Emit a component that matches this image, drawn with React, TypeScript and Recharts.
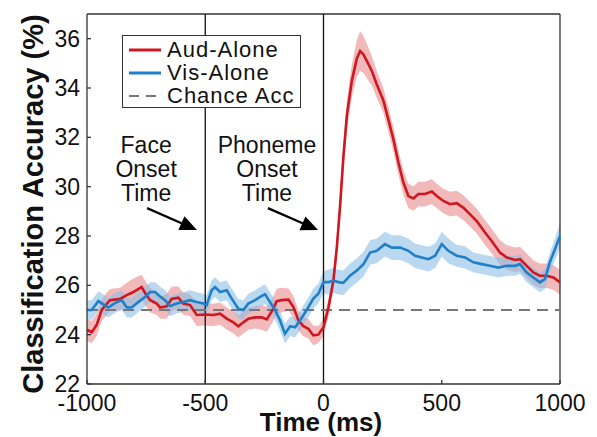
import React from 'react';
import {
  Area,
  ComposedChart,
  Line,
  ReferenceDot,
  ReferenceLine,
  XAxis,
  YAxis,
} from 'recharts';

// time points (ms) and mean / s.e.m. accuracy (%)
const AUD_TIME = [
  -1000, -980, -959, -938, -903, -860, -832, -804, -769, -755, -733, -705, -691, -663, -642, -614, -593,
  -564, -536, -501, -466, -437, -409, -381, -360, -339, -318, -289, -261, -240, -212, -198, -177, -148,
  -127, -106, -85, -64, -43, -22, 0, 21, 42, 56, 70, 84, 99, 120, 141, 155, 169, 183, 204, 225, 253, 275,
  296, 317, 338, 359, 380, 401, 429, 458, 479, 507, 535, 563, 591, 620, 648, 683, 711, 746, 775, 810, 831,
  852, 887, 915, 943, 972, 1000,
];
const AUD_MEAN = [
  24.2, 24.1, 24.4, 25.0, 25.4, 25.45, 25.6, 25.73, 25.93, 25.7, 25.4, 25.26, 25.1, 25.15, 25.45, 25.5,
  25.26, 25.2, 24.8, 24.82, 24.8, 24.85, 24.65, 24.5, 24.34, 24.5, 24.65, 24.7, 24.7, 24.62, 25.05, 25.36,
  25.4, 25.42, 25.12, 24.58, 24.34, 24.24, 23.97, 24.0, 24.3, 25.1, 26.2, 27.5, 29.2, 31.2, 32.9, 34.3,
  35.2, 35.5, 35.36, 35.1, 34.7, 34.15, 33.5, 32.7, 31.9, 30.97, 30.16, 29.62, 29.52, 29.7, 29.7, 29.8,
  29.62, 29.42, 29.29, 29.33, 29.15, 28.88, 28.6, 28.14, 27.8, 27.33, 27.13, 27.03, 27.06, 26.86, 26.52,
  26.39, 26.39, 26.32, 26.12,
];
const AUD_SEM = [
  0.45, 0.45, 0.45, 0.45, 0.45, 0.45, 0.5, 0.55, 0.5, 0.5, 0.5, 0.45, 0.45, 0.5, 0.5, 0.45, 0.45, 0.45,
  0.45, 0.45, 0.45, 0.45, 0.45, 0.45, 0.45, 0.45, 0.45, 0.45, 0.5, 0.5, 0.5, 0.5, 0.5, 0.45, 0.45, 0.4,
  0.4, 0.4, 0.4, 0.35, 0.35, 0.35, 0.4, 0.45, 0.5, 0.55, 0.6, 0.65, 0.75, 0.8, 0.75, 0.7, 0.6, 0.55, 0.5,
  0.5, 0.5, 0.5, 0.5, 0.5, 0.5, 0.5, 0.5, 0.5, 0.5, 0.5, 0.5, 0.5, 0.5, 0.5, 0.5, 0.5, 0.5, 0.5, 0.5,
  0.5, 0.5, 0.5, 0.5, 0.5, 0.5, 0.5, 0.5,
];

const VIS_TIME = [
  -1000, -980, -952, -931, -910, -882, -853, -832, -811, -783, -755, -733, -712, -691, -670, -649, -621,
  -593, -564, -536, -508, -494, -473, -459, -437, -409, -388, -360, -339, -318, -289, -268, -247, -226,
  -205, -184, -163, -141, -120, -99, -71, -43, -22, 0, 21, 42, 63, 84, 113, 141, 169, 197, 225, 260, 289,
  324, 359, 387, 415, 444, 472, 500, 528, 563, 598, 634, 669, 704, 739, 774, 810, 831, 859, 887, 915, 936,
  957, 979, 1000,
];
const VIS_MEAN = [
  25.0, 25.0, 25.36, 25.23, 25.1, 25.28, 25.4, 25.1, 25.1, 25.32, 25.53, 25.73, 25.73, 25.55, 25.4, 25.15,
  25.26, 25.32, 25.4, 25.32, 25.26, 25.2, 25.8, 25.93, 25.73, 25.8, 25.46, 25.05, 25.0, 25.26, 25.4, 25.53,
  25.64, 25.32, 25.0, 24.58, 24.04, 24.34, 24.3, 24.58, 25.0, 25.46, 25.66, 26.13, 26.13, 26.2, 26.13,
  26.1, 26.4, 26.6, 26.86, 27.33, 27.4, 27.67, 27.53, 27.53, 27.4, 27.2, 27.13, 27.06, 27.2, 27.67, 27.4,
  27.2, 27.13, 26.93, 26.86, 26.79, 26.72, 26.79, 26.79, 26.86, 26.52, 26.32, 26.12, 26.25, 26.93, 27.47,
  28.0,
];
const VIS_SEM = [
  0.4, 0.4, 0.4, 0.4, 0.4, 0.4, 0.4, 0.4, 0.4, 0.4, 0.4, 0.4, 0.4, 0.4, 0.4, 0.4, 0.4, 0.4, 0.4, 0.4,
  0.4, 0.4, 0.4, 0.4, 0.4, 0.4, 0.4, 0.4, 0.4, 0.4, 0.4, 0.4, 0.4, 0.4, 0.4, 0.4, 0.4, 0.4, 0.4, 0.4,
  0.4, 0.4, 0.4, 0.45, 0.5, 0.5, 0.5, 0.5, 0.5, 0.5, 0.5, 0.5, 0.5, 0.5, 0.5, 0.5, 0.5, 0.5,
  0.5, 0.5, 0.5, 0.5, 0.5, 0.45, 0.45, 0.4, 0.4, 0.4, 0.4, 0.4, 0.4, 0.4, 0.4, 0.4, 0.4, 0.4, 0.4,
  0.45, 0.5,
];

const CHANCE = 25;
const EVENT_TIMES = [-500, 0];
const X_TICKS = [-1000, -500, 0, 500, 1000];
const Y_TICKS = [22, 24, 26, 28, 30, 32, 34, 36];

const SERIES = [
  { name: 'Aud-Alone', color: '#d0171f', band: '#e98a8e' },
  { name: 'Vis-Alone', color: '#1f7fc8', band: '#8cbfe6' },
];
const LEGEND_ITEMS = [
  { name: 'Aud-Alone', color: '#d0171f', dashed: false },
  { name: 'Vis-Alone', color: '#1f7fc8', dashed: false },
  { name: 'Chance Acc', color: '#777777', dashed: true },
];

const ANNOTATIONS = [
  { lines: ['Face', 'Onset', 'Time'], t: -750, v: 31.35, from: [-746, 29.13], to: [-535, 28.24] },
  { lines: ['Phoneme', 'Onset', 'Time'], t: -239, v: 31.35, from: [-235, 29.13], to: [-23, 28.24] },
];

const FONT = '"Liberation Sans", Arial, Helvetica, sans-serif';
const TICK_STYLE = { fontSize: 23, fill: '#111', fontFamily: FONT, stroke: 'none' };

const build = (time: number[], mean: number[], sem: number[]) =>
  time.map((t, i) => ({ t, mean: mean[i], band: [mean[i] - sem[i], mean[i] + sem[i]] }));

const audData = build(AUD_TIME, AUD_MEAN, AUD_SEM);
const visData = build(VIS_TIME, VIS_MEAN, VIS_SEM);

const Arrow = (props: any) => {
  const { x1, y1, x2, y2 } = props;
  const dx = x2 - x1;
  const dy = y2 - y1;
  const len = Math.sqrt(dx * dx + dy * dy);
  const ux = dx / len;
  const uy = dy / len;
  const head = 17;
  const half = 7.5;
  const bx = x2 - ux * head;
  const by = y2 - uy * head;
  return (
    <g>
      <line x1={x1} y1={y1} x2={bx + ux * 2} y2={by + uy * 2} stroke="#000" strokeWidth={2.2} />
      <polygon
        points={`${x2},${y2} ${bx - uy * half},${by + ux * half} ${bx + uy * half},${by - ux * half}`}
        fill="#000"
      />
    </g>
  );
};

const annotationShape = (lines: string[]) => (props: any) => (
  <text x={props.cx} y={props.cy} textAnchor="middle" fontFamily={FONT} fontSize={23} fill="#111">
    {lines.map((l, i) => (
      <tspan key={l} x={props.cx} dy={i === 0 ? 0 : 24}>
        {l}
      </tspan>
    ))}
  </text>
);

export default function App() {
  return (
    <div style={{ position: 'absolute', left: 0, top: 0, width: 597, height: 437, background: '#fff' }}>
      <ComposedChart width={597} height={437} margin={{ top: 14, right: 37, left: 0, bottom: 0 }}>
        <XAxis
          type="number"
          dataKey="t"
          domain={[-1000, 1000]}
          ticks={X_TICKS}
          height={53}
          stroke="#333"
          strokeWidth={1.3}
          tickSize={-4}
          tickMargin={15}
          tick={TICK_STYLE}
          allowDuplicatedCategory={false}
          label={() => (
            <text x={321} y={431} textAnchor="middle" fontFamily={FONT} fontWeight="bold" fontSize={26} fill="#111">
              Time (ms)
            </text>
          )}
        />
        <YAxis
          type="number"
          domain={[22, 37]}
          ticks={Y_TICKS}
          width={87}
          stroke="#333"
          strokeWidth={1.3}
          tickSize={-4}
          tickMargin={11}
          tick={TICK_STYLE}
          label={() => (
            <text
              x={43}
              y={204}
              transform="rotate(-90 43 204)"
              textAnchor="middle"
              fontFamily={FONT}
              fontWeight="bold"
              fontSize={29}
              fill="#111"
            >
              Classification Accuracy (%)
            </text>
          )}
        />
        <ReferenceLine y={37} stroke="#333" strokeWidth={1.3} />
        <ReferenceLine x={1000} stroke="#333" strokeWidth={1.3} />
        {EVENT_TIMES.map((t) => (
          <ReferenceLine key={t} x={t} stroke="#111" strokeWidth={1.3} />
        ))}
        <Area
          data={audData}
          dataKey="band"
          type="linear"
          stroke="none"
          fill={SERIES[0].band}
          fillOpacity={0.6}
          isAnimationActive={false}
        />
        <Area
          data={visData}
          dataKey="band"
          type="linear"
          stroke="none"
          fill={SERIES[1].band}
          fillOpacity={0.6}
          isAnimationActive={false}
        />
        <ReferenceLine y={CHANCE} stroke="#777" strokeWidth={1.8} strokeDasharray="11 7" />
        <Line
          data={audData}
          dataKey="mean"
          type="linear"
          stroke={SERIES[0].color}
          strokeWidth={2.6}
          dot={false}
          isAnimationActive={false}
        />
        <Line
          data={visData}
          dataKey="mean"
          type="linear"
          stroke={SERIES[1].color}
          strokeWidth={2.6}
          dot={false}
          isAnimationActive={false}
        />
        {ANNOTATIONS.map((a) => (
          <ReferenceDot key={a.lines[0]} x={a.t} y={a.v} r={0} shape={annotationShape(a.lines)} />
        ))}
        {ANNOTATIONS.map((a) => (
          <ReferenceLine
            key={`arrow-${a.lines[0]}`}
            segment={[
              { x: a.from[0], y: a.from[1] },
              { x: a.to[0], y: a.to[1] },
            ]}
            shape={Arrow}
          />
        ))}
      </ComposedChart>
      <div
        style={{
          position: 'absolute',
          left: 122,
          top: 35,
          width: 177,
          height: 71,
          border: '1.5px solid #333',
          background: '#fff',
          fontFamily: FONT,
          fontSize: 22,
          color: '#111',
          boxSizing: 'content-box',
        }}
      >
        {LEGEND_ITEMS.map((item, i) => (
          <div
            key={item.name}
            style={{ position: 'absolute', left: 0, top: 2 + i * 23, height: 23, display: 'flex', alignItems: 'center' }}
          >
            <svg width={44} height={23} style={{ flex: 'none' }}>
              <line
                x1={6}
                x2={38}
                y1={12}
                y2={12}
                stroke={item.color}
                strokeWidth={item.dashed ? 2 : 3}
                strokeDasharray={item.dashed ? '10 7' : undefined}
              />
            </svg>
            <span style={{ whiteSpace: 'nowrap', letterSpacing: 1, lineHeight: '23px' }}>{item.name}</span>
          </div>
        ))}
      </div>
    </div>
  );
}
